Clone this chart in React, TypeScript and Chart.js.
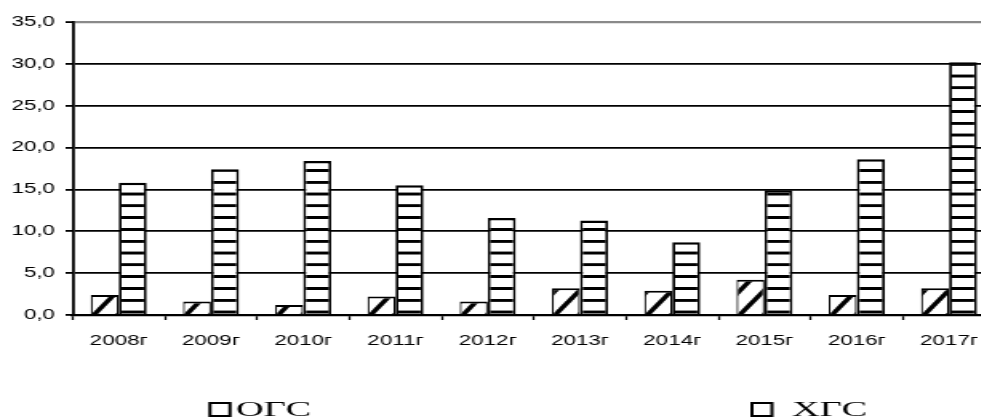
import React, { useEffect, useRef } from "react";
import { Chart, registerables } from "chart.js";

Chart.register(...registerables);

// ---- data ----
const categories = ["2008г", "2009г", "2010г", "2011г", "2012г", "2013г", "2014г", "2015г", "2016г", "2017г"];
const seriesNames = ["ОГС", "ХГС"];
const ogsValues = [2.4, 1.6, 1.2, 2.2, 1.6, 3.2, 2.9, 4.2, 2.4, 3.2];
const hgsValues = [15.8, 17.4, 18.4, 15.5, 11.6, 11.3, 8.7, 14.9, 18.6, 30.2];
const yMin = 0;
const yMax = 35;
const yStep = 5;

// ---- layout / style ----
const STRETCH = 1.6; // the reference is horizontally stretched
const NATIVE_W = 640;
const NATIVE_H = 419;
const CAT_PCT = 0.607;
const LEGEND_BOX_X = [210, 752]; // screen px
const LEGEND_TEXT_X = [236, 792];
const LEGEND_TEXT_SCALE = 1.2;

let hatchTile: HTMLCanvasElement | null = null;
function getHatchTile() {
  if (hatchTile) return hatchTile;
  const W = 24;
  const c = document.createElement("canvas");
  c.width = W;
  c.height = W;
  const t = c.getContext("2d")!;
  t.fillStyle = "#fff";
  t.fillRect(0, 0, W, W);
  t.strokeStyle = "#000";
  t.lineWidth = 4.5;
  for (const k of [0, W, 2 * W]) {
    t.beginPath();
    t.moveTo(k + 8, -8);
    t.lineTo(-8, k + 8);
    t.stroke();
  }
  hatchTile = c;
  return c;
}

function makeStripePattern(ctx: CanvasRenderingContext2D) {
  const c = document.createElement("canvas");
  c.width = 4;
  c.height = 24;
  const t = c.getContext("2d")!;
  t.fillStyle = "#fff";
  t.fillRect(0, 0, 4, 24);
  t.fillStyle = "#000";
  t.fillRect(0, 0, 4, 6);
  const p = ctx.createPattern(c, "repeat")!;
  const period = 11.8;
  const sy = period / 24;
  const thick = 6 * sy;
  const f = 312 - thick / 2 - 26 * period;
  p.setTransform(new DOMMatrix([1, 0, 0, sy, 0, f]));
  return p;
}

const legendPlugin = {
  id: "customLegend",
  afterDraw(chart: any) {
    const ctx: CanvasRenderingContext2D = chart.ctx;
    ctx.save();
    chart.data.datasets.forEach((ds: any, i: number) => {
      const bx = LEGEND_BOX_X[i] / STRETCH;
      const bw = 20 / STRETCH;
      ctx.fillStyle = "#fff";
      ctx.fillRect(bx, 403, bw, 13);
      ctx.strokeStyle = "#000";
      ctx.lineWidth = 2;
      ctx.strokeRect(bx, 403, bw, 13);
      ctx.fillStyle = "#000";
      ctx.font = "20px 'Liberation Serif', 'Times New Roman', serif";
      ctx.textBaseline = "middle";
      ctx.textAlign = "left";
      ctx.save();
      ctx.translate(LEGEND_TEXT_X[i] / STRETCH, 410.5);
      ctx.scale(LEGEND_TEXT_SCALE, 1);
      ctx.fillText(ds.label, 0, 0);
      ctx.restore();
    });
    ctx.restore();
  },
};

export default function App() {
  const ref = useRef<HTMLCanvasElement>(null);

  useEffect(() => {
    const canvas = ref.current!;
    const ctx = canvas.getContext("2d")!;
    const stripes = makeStripePattern(ctx);
    const tile = getHatchTile();

    const hatchFor = (c: any) => {
      const chart = c.chart;
      const xs = chart.scales?.x;
      const ys = chart.scales?.y;
      const p = ctx.createPattern(tile, "repeat")!;
      if (!xs || !ys) return p;
      const catW = xs.width / categories.length;
      const center = xs.getPixelForValue(c.dataIndex);
      const left = center - (catW * CAT_PCT) / 2;
      const bottom = ys.getPixelForValue(0);
      if (isFinite(left) && isFinite(bottom)) {
        p.setTransform(new DOMMatrix([1 / STRETCH, 0, 0, 1, left + 3 / STRETCH, bottom]));
      }
      return p;
    };

    const chart = new Chart(canvas, {
      type: "bar",
      data: {
        labels: categories,
        datasets: [
          {
            label: seriesNames[0],
            data: ogsValues,
            backgroundColor: hatchFor,
            borderColor: "#000",
            borderWidth: { left: 1.2, right: 1.2, top: 2, bottom: 0 },
            borderSkipped: "bottom",
          },
          {
            label: seriesNames[1],
            data: hgsValues,
            backgroundColor: stripes,
            borderColor: "#000",
            borderWidth: { left: 1.8, right: 1.8, top: 2.5, bottom: 0 },
            borderSkipped: "bottom",
          },
        ],
      },
      options: {
        responsive: false,
        animation: false,
        devicePixelRatio: 1,
        layout: { padding: { top: 22, right: NATIVE_W - 622, bottom: 0, left: 0 } },
        plugins: {
          legend: { display: false },
          tooltip: { enabled: false },
        },
        datasets: {
          bar: { categoryPercentage: CAT_PCT, barPercentage: 1 },
        },
        scales: {
          x: {
            z: 1,
            offset: true,
            afterFit: (s: any) => {
              s.height = NATIVE_H - 315;
            },
            grid: {
              display: true,
              drawOnChartArea: false,
              drawTicks: true,
              offset: true,
              tickLength: 5,
              tickWidth: 1.3,
              tickColor: "#000",
              color: "#000",
            },
            border: { display: true, color: "#000", width: 2.2 },
            ticks: {
              autoSkip: false,
              maxRotation: 0,
              color: "#000",
              padding: 13,
              font: { family: "'Liberation Sans', Arial, sans-serif", size: 14 },
            },
          },
          y: {
            min: yMin,
            max: yMax,
            afterFit: (s: any) => {
              s.width = 45.4;
            },
            grid: {
              color: (c: any) => (c.tick && c.tick.value === yMax ? "#8a8a8a" : "#000"),
              lineWidth: (c: any) => (c.tick && c.tick.value === yMax ? 2.2 : 1.8),
              tickColor: "#000",
              tickLength: 4.4,
              tickWidth: 1.8,
            },
            border: { display: true, color: "#000", width: 1.8 },
            ticks: {
              stepSize: yStep,
              color: "#000",
              padding: 6.6,
              font: { family: "'Liberation Sans', Arial, sans-serif", size: 14 },
              callback: (v: any) => Number(v).toFixed(1).replace(".", ","),
            },
          },
        },
      },
      plugins: [legendPlugin],
    });
    return () => chart.destroy();
  }, []);

  return (
    <div
      style={{
        position: "fixed",
        left: 0,
        top: 0,
        width: 981,
        height: 419,
        overflow: "hidden",
        background: "#fff",
      }}
    >
      <div
        style={{
          width: NATIVE_W,
          height: NATIVE_H,
          transform: `scaleX(${STRETCH})`,
          transformOrigin: "0 0",
        }}
      >
        <canvas ref={ref} width={NATIVE_W} height={NATIVE_H} />
      </div>
    </div>
  );
}
